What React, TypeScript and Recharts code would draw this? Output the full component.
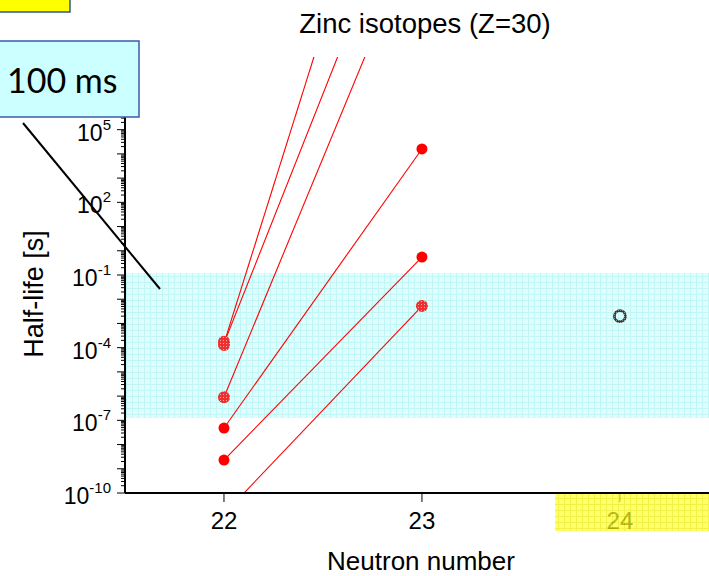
import React from "react";
import { ComposedChart, Line, Scatter, XAxis, YAxis, ReferenceArea } from "recharts";

const FONT = "'Liberation Sans', Arial, sans-serif";

// half-lives [s] at N=22 and N=23 for every connecting line
const LINE_N = [22, 23];
const TREND_A = [1.5e-4, 1.6e22];
const TREND_B = [1.5e-4, 6e16];
const TREND_C = [9e-7, 5e13];
const TREND_D = [4.8e-8, 1.6e4];
const TREND_E = [2.3e-9, 0.55];
const TREND_F = [1.35e-11, 5.2e-3];
const TRENDS = [TREND_A, TREND_B, TREND_C, TREND_D, TREND_E, TREND_F];

// measured points
const SOLID_N = [22, 22, 23, 23];
const SOLID_T = [4.8e-8, 2.3e-9, 1.6e4, 0.55];
const SHADED_N = [22, 22, 22, 23];
const SHADED_T = [1.75e-4, 1.3e-4, 9e-7, 5.2e-3];
const OPEN_N = [24];
const OPEN_T = [2e-3];

const BAND = [1.25e-7, 0.12];
const X_TICKS = [22, 23, 24];
const X_DOMAIN = [21.5, 24.45];
const Y_DOMAIN = [1e-10, 1e8];
const LABELLED_EXP = [-10, -7, -4, -1, 2, 5];

const rows = (ns: number[], ts: number[]) => ns.map((n, i) => ({ n, t: ts[i] }));

const yTicks: number[] = [];
const eMin = Math.round(Math.log10(Y_DOMAIN[0]));
const eMax = Math.round(Math.log10(Y_DOMAIN[1]));
for (let e = eMin; e < eMax; e++) {
  for (let m = 1; m <= 9; m++) yTicks.push(m * Math.pow(10, e));
}
yTicks.push(Y_DOMAIN[1]);

function YTick(props: any) {
  const { x, y, payload } = props;
  const e = Math.log10(payload.value);
  const major = Math.abs(e - Math.round(e)) < 1e-6;
  const exp = Math.round(e);
  const label = major && LABELLED_EXP.includes(exp);
  return (
    <g>
      <line x1={x} x2={x - (major ? 8 : 4)} y1={y} y2={y} stroke="#000" strokeWidth={1} />
      {label && (
        <text x={x - 14} y={y + 11} textAnchor="end" fontSize={23} fontFamily={FONT} fill="#000">
          10<tspan fontSize={15} dy={-11}>{exp}</tspan>
        </text>
      )}
    </g>
  );
}

function XTickBottom(props: any) {
  const { x, y, payload } = props;
  return (
    <g>
      <line x1={x} x2={x} y1={y} y2={y + 9} stroke="#000" strokeWidth={1} />
      <text x={x} y={y + 36} textAnchor="middle" fontSize={24} fontFamily={FONT} fill="#000">
        {payload.value}
      </text>
    </g>
  );
}

function XTickTop(props: any) {
  const { x, y } = props;
  return <line x1={x} x2={x} y1={y} y2={y + 8} stroke="#000" strokeWidth={1} />;
}

const solidDot = (p: any) => <circle cx={p.cx} cy={p.cy} r={5.5} fill="#ff0000" />;
const shadedDot = (p: any) => <circle cx={p.cx} cy={p.cy} r={6} fill="url(#redDots)" />;
const openDot = (p: any) => (
  <circle cx={p.cx} cy={p.cy} r={5.5} fill="none" stroke="url(#greyDots)" strokeWidth={2.8} />
);

export default function App() {
  return (
    <div style={{ position: "absolute", left: 0, top: 0, width: 709, height: 576, background: "#fff" }}>
      <svg width={0} height={0} style={{ position: "absolute" }}>
        <defs>
          <pattern id="cyanGrid" width="6" height="6" patternUnits="userSpaceOnUse">
            <rect width="6" height="6" fill="#defdfd" />
            <path d="M0 0.5H6M0.5 0V6" stroke="#c2f6f6" strokeWidth="1" />
          </pattern>
          <pattern id="redDots" width="3" height="3" patternUnits="userSpaceOnUse">
            <rect width="3" height="3" fill="#ee3030" />
            <rect x="1" y="1" width="1" height="1" fill="#f7a8a8" />
          </pattern>
          <pattern id="greyDots" width="2" height="2" patternUnits="userSpaceOnUse">
            <rect width="2" height="2" fill="#2f3c3c" />
            <rect width="1" height="1" fill="#8a9696" />
          </pattern>
          <pattern id="yellowGrid" width="6" height="6" patternUnits="userSpaceOnUse">
            <rect width="6" height="6" fill="#ffff30" />
            <path d="M0 0.5H6M0.5 0V6" stroke="#ecec00" strokeWidth="1" />
            <rect x="3" y="3" width="1" height="1" fill="#ffffb0" />
          </pattern>
        </defs>
      </svg>

      <ComposedChart width={709} height={576} margin={{ top: 57, right: 0, bottom: 0, left: 0 }}>
        <XAxis
          dataKey="n"
          type="number"
          domain={X_DOMAIN}
          ticks={X_TICKS}
          allowDataOverflow
          height={83}
          tickSize={0}
          tickMargin={0}
          tickLine={false}
          tick={<XTickBottom />}
          axisLine={{ stroke: "#000", strokeWidth: 2 }}
        />
        <XAxis
          xAxisId="top"
          orientation="top"
          dataKey="n"
          type="number"
          domain={X_DOMAIN}
          ticks={X_TICKS}
          allowDataOverflow
          height={0}
          tickSize={0}
          tickMargin={0}
          tickLine={false}
          tick={<XTickTop />}
          axisLine={{ stroke: "#000", strokeWidth: 2 }}
        />
        <YAxis
          dataKey="t"
          type="number"
          scale="log"
          domain={Y_DOMAIN}
          ticks={yTicks}
          interval={0}
          allowDataOverflow
          width={125}
          tickSize={0}
          tickMargin={0}
          tickLine={false}
          tick={<YTick />}
          axisLine={{ stroke: "#000", strokeWidth: 2 }}
        />
        <ReferenceArea
          x1={X_DOMAIN[0]}
          x2={X_DOMAIN[1]}
          y1={BAND[0]}
          y2={BAND[1]}
          fill="url(#cyanGrid)"
          fillOpacity={1}
          stroke="none"
        />
        {TRENDS.map((tr, i) => (
          <Line
            key={i}
            data={rows(LINE_N, tr)}
            dataKey="t"
            stroke="#ff0000"
            strokeWidth={1.1}
            dot={false}
            isAnimationActive={false}
          />
        ))}
        <Scatter data={rows(SHADED_N, SHADED_T)} dataKey="t" shape={shadedDot} isAnimationActive={false} />
        <Scatter data={rows(SOLID_N, SOLID_T)} dataKey="t" shape={solidDot} isAnimationActive={false} />
        <Scatter data={rows(OPEN_N, OPEN_T)} dataKey="t" shape={openDot} isAnimationActive={false} />
      </ComposedChart>

      <svg
        width={709}
        height={576}
        style={{ position: "absolute", left: 0, top: 0, pointerEvents: "none" }}
      >
        <text x={425} y={33} textAnchor="middle" fontSize={27.5} fontFamily={FONT} fill="#000">
          Zinc isotopes (Z=30)
        </text>
        <text x={421} y={570} textAnchor="middle" fontSize={26} fontFamily={FONT} fill="#000">
          Neutron number
        </text>
        <text
          x={43}
          y={294}
          textAnchor="middle"
          fontSize={27}
          fontFamily={FONT}
          fill="#000"
          transform="rotate(-90, 43, 294)"
        >
          Half-life [s]
        </text>
        <rect x={555} y={494} width={160} height={37} fill="url(#yellowGrid)" opacity={0.72} />
        <line x1={23} y1={123} x2={160} y2={289} stroke="#000" strokeWidth={2} />
        <rect x={-2} y={-2} width={72} height={14} fill="#ffff00" stroke="#2f5597" strokeWidth={1.5} />
        <rect x={-2} y={41} width={141} height={76} fill="#ccffff" stroke="#3a5ca8" strokeWidth={1.5} />
        <text x={7} y={93} fontSize={34} fontFamily="Lato, 'Open Sans', sans-serif" fill="#000">
          100 ms
        </text>
      </svg>
    </div>
  );
}
